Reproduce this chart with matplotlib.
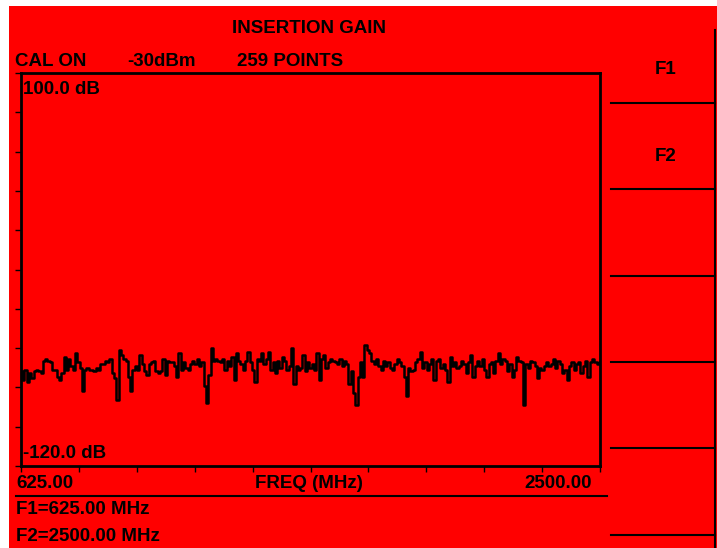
import numpy as np
import matplotlib
matplotlib.use("Agg")
import matplotlib.pyplot as plt
from matplotlib.lines import Line2D
from matplotlib.patches import Rectangle

# trace values (dB), 259 points from 625 to 2500 MHz
gain = [
    -67, -72, -66, -73, -68, -71, -67, -66, -67, -68,
    -61, -60, -61, -62, -66, -66, -70, -72, -68, -59,
    -66, -60, -64, -66, -57, -62, -65, -78, -66, -65,
    -66, -66, -67, -65, -66, -63, -63, -61, -62, -60,
    -68, -71, -83, -55, -58, -60, -61, -70, -78, -66,
    -64, -66, -58, -63, -67, -69, -63, -62, -61, -67,
    -68, -67, -60, -69, -61,
    -62, -62, -64, -70, -57, -66, -62, -65, -66, -63,
    -61, -63, -60, -64, -62, -75, -85, -69, -54, -61,
    -60, -61, -62, -60, -66, -61, -64, -59, -72, -57,
    -61, -63, -66, -61, -56, -62, -66, -73, -60, -61,
    -57, -63, -60, -56, -66, -62, -68, -61, -65, -59,
    -61, -66, -64, -54, -74, -64, -66, -65, -58, -67,
    -62, -65, -63, -66,
    -57, -72, -60, -58, -65, -62, -60, -61, -62, -63,
    -60, -64, -61, -63, -74, -67, -79, -86, -70, -62,
    -70, -52, -55, -57, -61, -63, -60, -64, -66, -61,
    -64, -62, -65, -66, -63, -60, -62, -64, -70, -81,
    -65, -67, -66, -62, -60, -56, -65, -62, -66, -63,
    -60, -72, -61, -60, -65, -63, -66, -73, -59, -64,
    -62, -65, -64, -61,
    -63, -68, -62, -58, -70, -64, -61, -64, -60, -66,
    -70, -63, -62, -68, -61, -57, -63, -60, -61, -67,
    -63, -70, -66, -59, -61, -62, -86, -63, -65, -61,
    -62, -64, -71, -65, -66, -64, -62, -64, -63, -60,
    -65, -61, -63, -68, -66, -72, -64, -62, -66, -63,
    -62, -68, -64, -61, -70, -62, -60, -62, -63, -62,
]
f_start, f_stop = 625.0, 2500.0
y_top, y_bottom = 100.0, -120.0

header = ["CAL ON", "-30dBm", "259 POINTS"]
markers = ["F1=625.00 MHz", "F2=2500.00 MHz"]
softkeys = ["F1", "F2"]

W, H = 717, 548
RED = "#ff0000"
FONT = dict(family="Liberation Sans", size=13.5, weight="bold", color="black")


def fx(px):
    return px / W


def fy(py):
    return 1 - py / H


fig = plt.figure(figsize=(W / 100, H / 100), dpi=100)
fig.patch.set_facecolor("white")
fig.patches.append(Rectangle((fx(9), 0), 1 - fx(9), fy(6), transform=fig.transFigure,
                             facecolor=RED, edgecolor="none", zorder=-5))

ax = fig.add_axes([fx(21), fy(466), fx(600) - fx(21), (466 - 73) / H])
ax.set_zorder(2)
ax.set_facecolor("none")
freq = np.linspace(f_start, f_stop, len(gain))
ax.plot(freq, gain, color="black", lw=1.8, drawstyle="steps-mid")
ax.set_xlim(f_start, f_stop)
ax.set_ylim(y_bottom, y_top)
ax.set_xticks(np.linspace(f_start, f_stop, 11))
ax.set_yticks(np.linspace(y_bottom, y_top, 11))
ax.tick_params(direction="out", length=4, width=1, labelbottom=False, labelleft=False)
for s in ax.spines.values():
    s.set_linewidth(2)

fig.text(fx(232), fy(33), "INSERTION GAIN", **FONT)
for x, t in zip([15, 127, 237], header):
    fig.text(fx(x), fy(66), t, **FONT)
fig.text(fx(23), fy(94), "100.0 dB", **FONT)
fig.text(fx(23), fy(458), "-120.0 dB", **FONT)
fig.text(fx(16), fy(488), "625.00", **FONT)
fig.text(fx(255), fy(488), "FREQ (MHz)", **FONT)
fig.text(fx(592), fy(488), "2500.00", ha="right", **FONT)
fig.text(fx(16), fy(514), markers[0], **FONT)
fig.text(fx(16), fy(541), markers[1], **FONT)
fig.text(fx(655), fy(74), softkeys[0], **FONT)
fig.text(fx(655), fy(161), softkeys[1], **FONT)

lines = [([16, 607], [496, 496]), ([715, 715], [30, 548])]
for y in [103, 189, 276, 362, 448, 535]:
    lines.append(([611, 715], [y, y]))
for xs, ys in lines:
    fig.add_artist(Line2D([fx(v) for v in xs], [fy(v) for v in ys],
                          transform=fig.transFigure, color="black", lw=1.5))

fig.savefig("out.png", dpi=100, facecolor=fig.get_facecolor())
